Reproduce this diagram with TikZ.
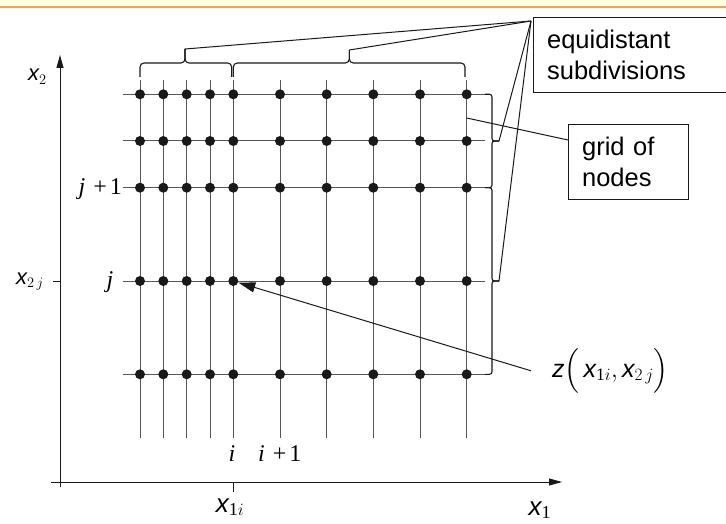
\documentclass[tikz,border=0pt]{standalone}
\usepackage{amsmath}
\usepackage{fontspec}
\setmainfont{Liberation Sans}
\newfontfamily\serf{Liberation Serif}
\usetikzlibrary{arrows.meta}
\definecolor{ink}{RGB}{25,25,25}
\definecolor{gridc}{RGB}{85,85,85}
\definecolor{band}{RGB}{255,255,226}
\definecolor{bandline}{RGB}{250,160,80}
\tikzset{
  gline/.style={gridc,line width=1pt},
  gaxis/.style={ink,line width=1pt},
  gdot/.style={circle,fill=ink,inner sep=0pt,minimum size=10pt},
  glead/.style={ink,line width=1pt},
  gbrace/.style={ink,line width=1.1pt,rounded corners=4pt},
  gbox/.style={draw=ink,line width=1.2pt,align=left,anchor=north west,
    inner xsep=13.5pt,inner ysep=12.7pt,font=\fontsize{25.5}{30.5}\selectfont},
  glab/.style={inner sep=0pt,font=\fontsize{24}{28}\selectfont},
  gtip/.style={-{Triangle[length=13pt,width=7pt]}},
}

\begin{document}
\begin{tikzpicture}[x=1pt,y=-1pt]
  \useasboundingbox (0,0) rectangle (726,524);
  \clip (0,0) rectangle (726,524);
  % ---- top band ----
  \fill[band] (0,0) rectangle (726,6);
  \draw[bandline,line width=2pt] (0,7) -- (726,7);
  % ---- axes ----
  \draw[gaxis,gtip] (60,487) -- (60,55);
  \draw[gaxis,gtip] (51,482) -- (562,482);
  \draw[gaxis] (233.3,482) -- (233.3,492);
  \draw[gaxis] (53,281) -- (60,281);
  % ---- grid of nodes ----
  \foreach \cx in {140,163.3,186.7,210,233.3,280,326.7,373.3,420,466.7}
    \draw[gline] (\cx,80) -- (\cx,438);
  \foreach \ry in {94.3,141,187.7,281,374.3}
    \draw[gline] (123,\ry) -- (485,\ry);
  \foreach \cx [count=\ci] in {140,163.3,186.7,210,233.3,280,326.7,373.3,420,466.7} {
    \foreach \ry [count=\rj] in {94.3,141,187.7,281,374.3}
      \node[gdot] (p-\ci-\rj) at (\cx,\ry) {};}
  % ---- braces ----
  \draw[gbrace] (140,77) |- (185,63) -- (185,49);
  \draw[gbrace] (185,49) -- (185,63) -| (231.7,77);
  \draw[gbrace] (233.3,77) |- (349.3,63) -- (349.3,50);
  \draw[gbrace] (349.3,50) -- (349.3,63) -| (465,77);
  \draw[gbrace,rounded corners=2.5pt] (485,94.3) -| (492,141) -- (499,141);
  \draw[gbrace,rounded corners=2.5pt] (499,141) -- (492,141) |- (485,187.7);
  \draw[gbrace,rounded corners=2.5pt] (485,187.7) -| (492,281) -- (499,281);
  \draw[gbrace,rounded corners=2.5pt] (499,281) -- (492,281) |- (485,374.3);
  \coordinate (tipA) at (185,49);
  \coordinate (tipB) at (349.3,50);
  \coordinate (tipC) at (499,141);
  \coordinate (tipD) at (499,281);
  \coordinate (gridpt) at (466.7,118);
  % ---- boxes ----
  \node[gbox,text width=213pt] (eqbox) at (533,17) {equidistant\\subdivisions};
  \node[gbox,text width=93pt] (gridbox) at (568,124) {grid of\\nodes};
  \foreach \t in {tipA,tipB,tipC,tipD}
    \draw[glead] (\t) -- ([xshift=-2pt,yshift=-4pt]eqbox.north west);
  \draw[glead] (gridpt) -- ([yshift=-16pt]gridbox.north west);
  % ---- labels ----
  \node[glab,font=\fontsize{22}{26}\selectfont,anchor=base] (x2lab) at (37.5,81) {$\mathit{x}_2$};
  \node[glab,font=\fontsize{22}{26}\selectfont,anchor=base east] (x2jlab) at (44,284) {$\mathit{x}_{2\,j}$};
  \node[glab,font=\fontsize{26}{30}\selectfont,anchor=base] (x1ilab) at (230,512) {$\mathit{x}_{\text{\serf 1}i}$};
  \node[glab,font=\fontsize{26}{30}\selectfont,anchor=base] (x1lab) at (540,515) {$\mathit{x}_{\text{\serf 1}}$};
  \node[glab,anchor=base east] (jp1lab) at (122,195) {{\serf\itshape j}\hspace{8pt}{\serf +\hspace{3pt}1}};
  \node[glab,anchor=base] (jlab) at (110,287) {\serf\itshape j};
  \node[glab,anchor=base] (ilab) at (232,461) {\serf\itshape i};
  \node[glab,anchor=base west] (ip1lab) at (258,461) {{\serf\itshape i}\hspace{8pt}{\serf +\hspace{3pt}1}};
  \node[glab,font=\fontsize{25}{30}\selectfont,anchor=base west] (zlab) at (552,377)
    {$\mathit{z}\Big(\,\mathit{x}_{\text{\serf 1}i},\mathit{x}_{2\,j}\Big)$};
  \draw[glead,-{Triangle[length=17pt,width=10pt]}] ([xshift=-21pt]zlab.west) -- (p-5-4);
\end{tikzpicture}
\end{document}
